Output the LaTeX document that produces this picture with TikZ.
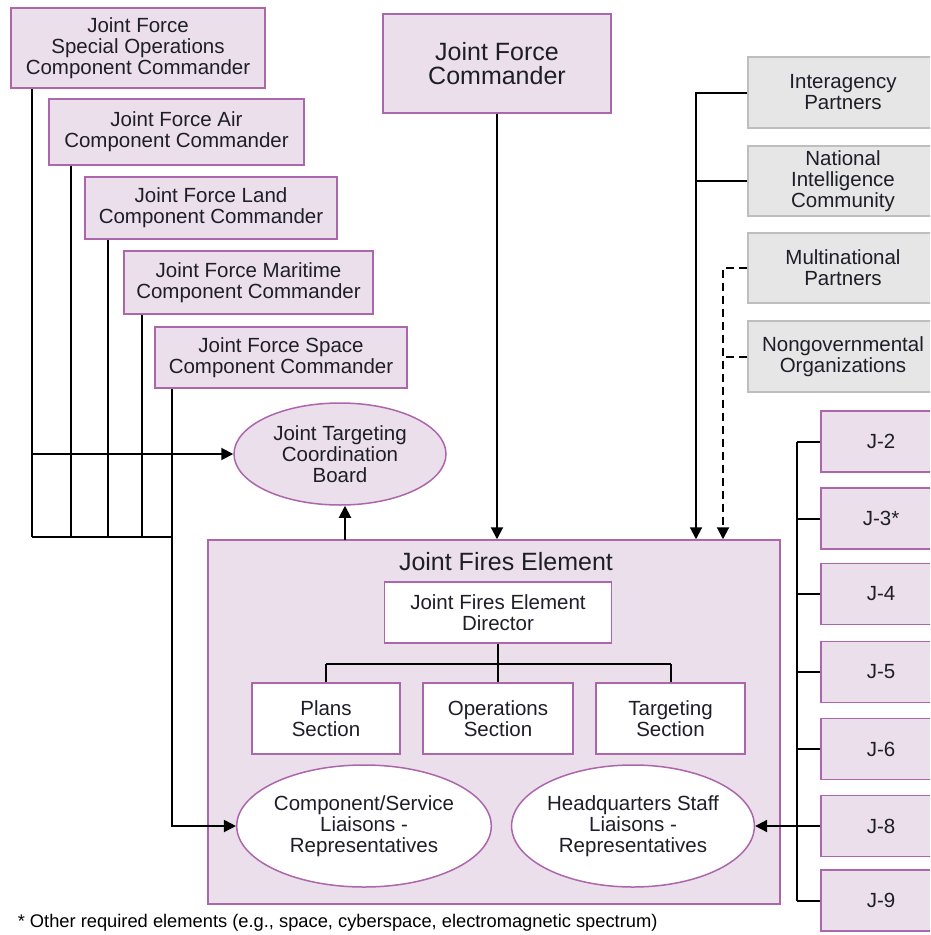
\documentclass[tikz,border=0pt]{standalone}
\usepackage{fontspec}
\setmainfont{Liberation Sans}
\usetikzlibrary{shapes.geometric,arrows.meta}
\definecolor{boxfill}{RGB}{236,223,236}
\definecolor{boxline}{RGB}{172,102,172}
\definecolor{grayfill}{RGB}{230,230,230}
\definecolor{grayline}{RGB}{190,190,190}
\definecolor{txt}{RGB}{30,30,40}
\begin{document}
\begin{tikzpicture}[x=1pt,y=-1pt,
  base/.style={align=center, inner sep=0pt, text=txt, font=\fontsize{20.5}{21}\selectfont, line width=1.5pt},
  pbox/.style={base, rectangle, draw=boxline, fill=boxfill},
  gbox/.style={base, rectangle, draw=grayline, fill=grayfill},
  wbox/.style={base, rectangle, draw=boxline, fill=white},
  oval/.style={base, ellipse, draw=boxline},
  jbox/.style={pbox, minimum width=120pt, minimum height=61pt},
  rbox/.style={gbox, minimum width=190pt},
  conn/.style={line width=2pt, black},
  arr/.style={conn, -{Triangle[width=12pt,length=12pt]}},
  dconn/.style={conn, dash pattern=on 8pt off 5pt},
]
\clip (0,0) rectangle (930,935);
\fill[white] (0,0) rectangle (930,935);

% left component commanders
\node[pbox, minimum width=254pt, minimum height=80pt] (sof) at (138,48) {Joint Force\\Special Operations\\Component Commander};
\node[pbox, minimum width=255pt, minimum height=66pt] (air) at (176.5,132) {Joint Force Air\\Component Commander};
\node[pbox, minimum width=252pt, minimum height=62pt] (land) at (211,208) {Joint Force Land\\Component Commander};
\node[pbox, minimum width=249pt, minimum height=63pt] (mar) at (248.5,282.5) {Joint Force Maritime\\Component Commander};
\node[pbox, minimum width=252pt, minimum height=61pt] (space) at (281,357.5) {Joint Force Space\\Component Commander};

% commander
\node[pbox, minimum width=228pt, minimum height=99pt, font=\fontsize{25}{24}\selectfont] (jfc) at (497,63.5) {Joint Force\\Commander};

% right partners
\node[rbox, minimum height=71pt] (ia) at (843,92.5) {Interagency\\Partners};
\node[rbox, minimum height=70pt] (nic) at (843,181) {National\\Intelligence\\Community};
\node[rbox, minimum height=70pt] (mn) at (843,268) {Multinational\\Partners};
\node[rbox, minimum height=71pt] (ng) at (843,356.5) {Nongovernmental\\Organizations};

% J staff
\node[jbox] (j2) at (881,441.5) {J-2};
\node[jbox] (j3) at (881,518.5) {J-3*};
\node[jbox] (j4) at (881,594) {J-4};
\node[jbox] (j5) at (881,672) {J-5};
\node[jbox] (j6) at (881,749) {J-6};
\node[jbox] (j8) at (881,826) {J-8};
\node[jbox] (j9) at (881,900.5) {J-9};

% JTCB
\node[oval, fill=boxfill, minimum width=212pt, minimum height=102pt] (jtcb) at (340,454) {Joint Targeting\\Coordination\\Board};

% Joint Fires Element
\node[pbox, minimum width=572pt, minimum height=364pt] (jfe) at (494,722) {};
\node[base, font=\fontsize{25}{26}\selectfont] (jfet) at (506,562) {Joint Fires Element};
\node[wbox, minimum width=227pt, minimum height=61pt] (dir) at (498,612.5) {Joint Fires Element\\Director};
\node[wbox, minimum width=148pt, minimum height=71pt] (plans) at (326,718.5) {Plans\\Section};
\node[wbox, minimum width=150pt, minimum height=71pt] (ops) at (498,718.5) {Operations\\Section};
\node[wbox, minimum width=149pt, minimum height=71pt] (targ) at (670.5,718.5) {Targeting\\Section};
\node[oval, fill=white, minimum width=238pt, minimum height=122pt] (comp) at (364,826) {Component/Service\\Liaisons -\\Representatives};
\node[oval, fill=white, minimum width=238pt, minimum height=122pt] (hq) at (633,826) {Headquarters Staff\\Liaisons -\\Representatives};

% footnote
\node[base, anchor=west, text=black, font=\fontsize{18.3}{20}\selectfont] (fn) at (17,923) {* Other required elements (e.g., space, cyberspace, electromagnetic spectrum)};

% left bus
\coordinate (b1) at (32,537);
\coordinate (b2) at (71,537);
\coordinate (b3) at (108,537);
\coordinate (b4) at (142,537);
\coordinate (b5) at (172,537);
\coordinate (h1) at (32,454);
\coordinate (c5) at (172,826);
\draw[conn] (sof.south -| b1) -- (b1);
\draw[conn] (air.south -| b2) -- (b2);
\draw[conn] (land.south -| b3) -- (b3);
\draw[conn] (mar.south -| b4) -- (b4);
\draw[conn] (b1) -- (b5);
\draw[arr] (space.south -| c5) -- (c5) -- (comp.west);
\draw[arr] (h1) -- (jtcb.west);

% JFE to JTCB
\coordinate (ja) at (345,540);
\draw[arr] (ja) -- (ja |- jtcb.south);

% JFC to JFE
\draw[arr] (jfc.south) -- (jfc.south |- jfe.north);

% right partners to JFE
\coordinate (rv) at (696,0);
\coordinate (dv) at (723,0);
\draw[conn] (nic.west) -- (nic.west -| rv);
\draw[arr] (ia.west) -- (ia.west -| rv) -- (rv |- jfe.north);
\draw[dconn] (ng.west) -- (ng.west -| dv);
\draw[dconn, -{Triangle[width=12pt,length=12pt]}] (mn.west) -- (mn.west -| dv) -- (dv |- jfe.north);

% J staff bus
\coordinate (jv) at (797,0);
\draw[conn] (j2.west -| jv) -- (j9.west -| jv);
\foreach \j in {j2,j3,j4,j5,j6,j8,j9} \draw[conn] (\j.west) -- (\j.west -| jv);
\draw[arr] (j8.west -| jv) -- (hq.east);

% director to sections
\coordinate (dj) at (498,664);
\draw[conn] (dir.south) -- (dir.south |- dj);
\draw[conn] (plans.north |- dj) -- (targ.north |- dj);
\draw[conn] (plans.north |- dj) -- (plans.north);
\draw[conn] (ops.north |- dj) -- (ops.north);
\draw[conn] (targ.north |- dj) -- (targ.north);
\end{tikzpicture}
\end{document}
